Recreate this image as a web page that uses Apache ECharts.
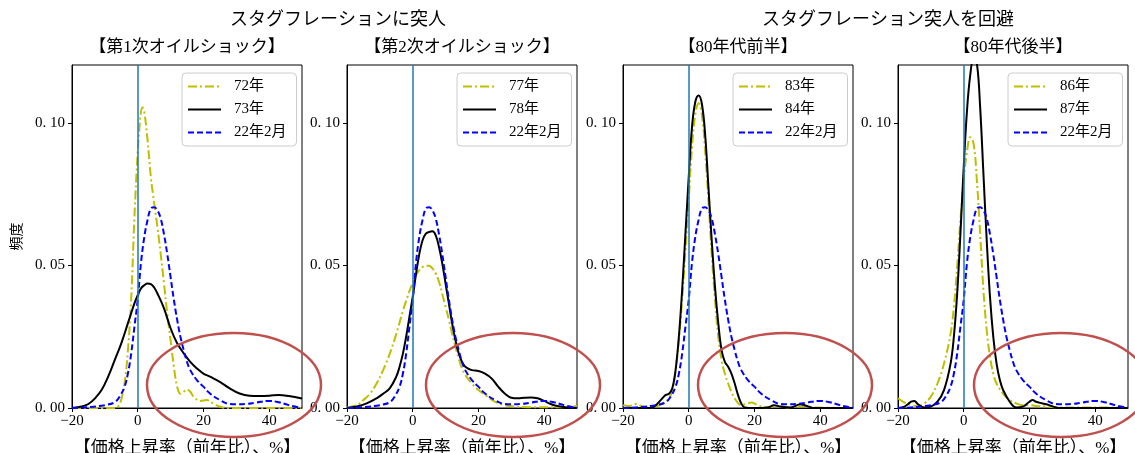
<!DOCTYPE html>
<html>
<head>
<meta charset="utf-8">
<script src="https://cdn.jsdelivr.net/npm/echarts@6/dist/echarts.min.js"></script>
<style>html,body{margin:0;padding:0;background:#fff}#c{width:1135px;height:453px}</style>
</head>
<body>
<div id="c"></div>
<script>
// ---- data ----
const groupTitles = ['スタグフレーションに突人', 'スタグフレーション突人を回避'];
const panelTitles = ['【第1次オイルショック】', '【第2次オイルショック】', '【80年代前半】', '【80年代後半】'];
const xAxisName = '【価格上昇率（前年比）、%】';
const yAxisName = '頻度';
const xTicks = [-20, 0, 20, 40];
const yTicks = [0, 0.05, 0.10];
const legendNames = [['72年', '73年'], ['77年', '78年'], ['83年', '84年'], ['86年', '87年']];
const base22 = '22年2月';

const s22feb = [[-20,0],[-15,0.0003],[-10,0.001],[-7,0.002],[-5.5,0.004],[-4,0.0075],[-3,0.012],[-2,0.019],[-1,0.0285],[0,0.038],[1,0.051],[2,0.060],[3,0.066],[4,0.070],[5,0.0705],[6,0.0694],[7,0.0665],[8,0.061],[9,0.054],[10,0.046],[11,0.038],[12,0.031],[13,0.025],[14,0.0203],[15,0.0162],[16,0.0133],[18,0.0098],[20,0.0075],[22,0.0051],[25,0.0028],[28,0.0014],[30,0.0013],[33,0.0014],[36,0.0019],[40,0.0025],[43,0.002],[46,0.001],[50,0]];

const s72 = [[-20,0],[-7,0],[-6,0.0005],[-5,0.003],[-4,0.0086],[-3,0.020],[-2,0.038],[-1,0.067],[0,0.090],[0.5,0.098],[1,0.104],[1.5,0.1055],[2,0.104],[3,0.094],[4,0.081],[5,0.072],[6,0.0635],[7,0.054],[8,0.0437],[9,0.033],[10,0.0238],[11,0.0145],[12,0.0075],[13,0.005],[14,0.0057],[15,0.0065],[16,0.0057],[17,0.004],[19,0.0025],[21,0.0028],[23,0.0016],[25,0.0005],[27,0],[50,0]];
const s73 = [[-20,0],[-17,0.0005],[-15,0.0014],[-13,0.0034],[-11,0.0063],[-9,0.011],[-7,0.0168],[-5,0.0227],[-3,0.0297],[-1,0.0367],[0,0.0396],[1,0.042],[2,0.0431],[3,0.0437],[4,0.0435],[5,0.0423],[6,0.0402],[8,0.035],[10,0.028],[12,0.0227],[14,0.0192],[16,0.0162],[18,0.0139],[20,0.0121],[22,0.011],[25,0.0092],[28,0.0069],[31,0.0051],[34,0.0043],[37,0.0042],[40,0.0043],[43,0.0046],[46,0.0042],[50,0.0033]];

const s77 = [[-20,0.0002],[-17,0.001],[-15,0.0028],[-13,0.005],[-11,0.0086],[-9,0.0133],[-7,0.019],[-5,0.026],[-3,0.034],[-1,0.041],[0,0.044],[1,0.0466],[2,0.0484],[3,0.0495],[4,0.0499],[5,0.0499],[6,0.049],[7,0.0472],[8,0.0443],[9,0.040],[10,0.0355],[11,0.031],[12,0.026],[13,0.0215],[14,0.0174],[15,0.0139],[16,0.0116],[18,0.0086],[20,0.0063],[22,0.0046],[25,0.0022],[28,0.001],[31,0.0005],[35,0.0003],[45,0.0003],[50,0.0007]];
const s78 = [[-20,0],[-17,0.0005],[-14,0.0016],[-11,0.0034],[-9,0.005],[-7,0.0069],[-5,0.011],[-4,0.0145],[-3,0.019],[-2,0.025],[-1,0.032],[0,0.039],[1,0.047],[2,0.054],[3,0.0589],[4,0.0612],[5,0.0618],[6,0.062],[7,0.0606],[8,0.0565],[9,0.0507],[10,0.0437],[11,0.0367],[12,0.0297],[13,0.0238],[14,0.0192],[15,0.0162],[16,0.0145],[18,0.0133],[20,0.013],[22,0.0121],[24,0.0104],[26,0.0075],[28,0.0051],[30,0.0036],[32,0.0034],[34,0.0036],[36,0.0037],[38,0.0034],[40,0.0025],[42,0.0014],[44,0.0007],[47,0.0002],[50,0]];

const s83 = [[-20,0.001],[-18,0.0007],[-16,0.0014],[-14,0.0005],[-12,0.0002],[-10,0.0005],[-8,0.0016],[-6,0.0034],[-5,0.0063],[-4,0.0133],[-3,0.0238],[-2,0.038],[-1,0.055],[0,0.073],[1,0.0915],[2,0.103],[3,0.107],[4,0.103],[5,0.090],[6,0.073],[7,0.054],[8,0.038],[9,0.025],[10,0.0168],[11,0.0121],[12,0.0086],[13,0.0057],[14,0.0034],[16,0.001],[18,0.0016],[19,0.0019],[21,0.001],[23,0.0002],[26,0.0005],[28,0.0007],[30,0.0002],[35,0.0007],[38,0.0002],[50,0]];
const s84 = [[-20,0],[-12,0],[-11,0.0002],[-10,0.001],[-8,0.0034],[-7,0.0046],[-6,0.005],[-5,0.0069],[-4,0.0133],[-3,0.025],[-2,0.0414],[-1,0.0612],[0,0.081],[1,0.0986],[2,0.1074],[3,0.1097],[4,0.1068],[5,0.096],[6,0.0776],[7,0.0589],[8,0.0425],[9,0.0297],[10,0.0203],[11,0.0162],[12,0.0145],[13,0.0121],[14,0.0086],[15,0.0046],[16,0.0016],[17,0.0002],[20,0],[24,0.0002],[26,0.001],[28,0.0005],[31,0.0002],[34,0.0013],[36,0.0007],[38,0],[50,0]];

const s86 = [[-20,0.0034],[-18,0.0019],[-16,0.001],[-14,0.0007],[-12,0.0016],[-10,0.004],[-8,0.0086],[-6,0.0156],[-4,0.026],[-3,0.0355],[-2,0.0495],[-1,0.0659],[0,0.080],[1,0.090],[2,0.095],[3,0.0928],[4,0.080],[5,0.0612],[6,0.0414],[7,0.0273],[8,0.018],[9,0.0121],[10,0.0086],[12,0.005],[14,0.0028],[16,0.0016],[18,0.001],[20,0.001],[22,0.0007],[25,0.0005],[30,0.0002],[50,0.0002]];
const s87 = [[-20,0],[-18,0.0005],[-16,0.0022],[-15,0.0025],[-14,0.0014],[-12,0.0002],[-10,0.0005],[-8,0.0022],[-6,0.0063],[-4,0.0156],[-3,0.025],[-2,0.040],[-1,0.0612],[0,0.0846],[1,0.1044],[2,0.117],[3,0.1225],[4,0.121],[5,0.1056],[6,0.0822],[7,0.0589],[8,0.039],[9,0.025],[10,0.0156],[11,0.0098],[12,0.0063],[14,0.0022],[16,0.0002],[18,0.0005],[20,0.0022],[21,0.0028],[22,0.0022],[24,0.0016],[26,0.001],[28,0.0002],[30,0],[50,0]];

const panelSeries = [[s72, s73], [s77, s78], [s83, s84], [s86, s87]];

// ---- layout / style ----
const gridLefts = [72, 347, 623, 898];
const gridTop = 65, gridW = 230, gridH = 343;
const FONT = '"Liberation Serif", "Noto Sans CJK JP", serif';
const YELLOW = '#bfbf00', BLACK = '#000000', BLUE = '#0000ff', VLINE = '#1f77b4', RED = '#c0504d';
const dashDot = [9, 3, 2, 3];
const dashed = [6, 3];

const grids = [], xAxes = [], yAxes = [], series = [], legends = [];
gridLefts.forEach((left, i) => {
  grids.push({left: left, top: gridTop, width: gridW, height: gridH, show: true, borderColor: '#000', borderWidth: 1,
    backgroundColor: 'transparent', containLabel: false, outerBoundsMode: 'none'});
  xAxes.push({
    type: 'value', gridIndex: i, min: -20, max: 50, interval: 20,
    name: xAxisName, nameLocation: 'middle', nameGap: 32,
    nameTextStyle: {fontFamily: FONT, fontSize: 17, color: '#000'},
    axisLine: {show: true, onZero: false, lineStyle: {color: '#000', width: 1}},
    axisTick: {show: true, length: 4, lineStyle: {color: '#000'}, customValues: xTicks},
    axisLabel: {customValues: xTicks, fontFamily: FONT, fontSize: 15, color: '#000', margin: 6,
      formatter: v => v < 0 ? '\u2212' + (-v) : String(v)},
    splitLine: {show: false}
  });
  yAxes.push({
    type: 'value', gridIndex: i, min: 0, max: 0.1204, interval: 0.05,
    name: i === 0 ? yAxisName : '', nameLocation: 'middle', nameGap: 48, nameRotate: 90,
    nameTextStyle: {fontFamily: FONT, fontSize: 14, color: '#000'},
    axisLine: {show: true, onZero: false, lineStyle: {color: '#000', width: 1}},
    axisTick: {show: true, length: 4, lineStyle: {color: '#000'}, customValues: yTicks},
    axisLabel: {customValues: yTicks, fontFamily: FONT, fontSize: 15, color: '#000', margin: 7,
      formatter: v => v.toFixed(2).replace('.', '. ')},
    splitLine: {show: false}
  });
  const [ya, yb] = panelSeries[i];
  const [na, nb] = legendNames[i];
  const common = {type: 'line', xAxisIndex: i, yAxisIndex: i, showSymbol: false, symbol: 'none', smooth: 0.4, clip: true, silent: true, animation: false};
  series.push(Object.assign({}, common, {name: na, data: ya, lineStyle: {color: YELLOW, width: 2, type: dashDot}, itemStyle: {color: YELLOW}, z: 3}));
  series.push(Object.assign({}, common, {name: nb, data: yb, lineStyle: {color: BLACK, width: 2, type: 'solid'}, itemStyle: {color: BLACK}, z: 3}));
  series.push(Object.assign({}, common, {name: base22, data: s22feb, lineStyle: {color: BLUE, width: 2, type: dashed}, itemStyle: {color: BLUE}, z: 3,
    markLine: {silent: true, symbol: ['none', 'none'], label: {show: false}, animation: false,
      lineStyle: {color: VLINE, width: 1.5, type: 'solid'}, data: [{xAxis: 0}]}}));
  legends.push({
    left: left + gridW - 120, top: 73, orient: 'vertical',
    data: [na, nb, base22],
    itemWidth: 33, itemHeight: 14, itemGap: 8,
    padding: [6, 10, 6, 5],
    itemStyle: {opacity: 0},
    backgroundColor: 'rgba(255,255,255,0.85)', borderColor: '#cccccc', borderWidth: 1, borderRadius: 4,
    textStyle: {fontFamily: FONT, fontSize: 15, color: '#000', padding: [0, 0, 0, 8]},
    selectedMode: false
  });
});

const graphics = [];
graphics.push({type: 'text', style: {text: groupTitles[0], x: 338, y: 20, textAlign: 'center', textVerticalAlign: 'middle', font: '18px ' + FONT, fill: '#000'}});
graphics.push({type: 'text', style: {text: groupTitles[1], x: 888, y: 20, textAlign: 'center', textVerticalAlign: 'middle', font: '18px ' + FONT, fill: '#000'}});
panelTitles.forEach((t, i) => {
  graphics.push({type: 'text', style: {text: t, x: gridLefts[i] + gridW / 2, y: 48, textAlign: 'center', textVerticalAlign: 'middle', font: '17px ' + FONT, fill: '#000'}});
});
const ellipseCenters = [234, 513, 785, 1061];
ellipseCenters.forEach(cx => {
  graphics.push({type: 'ellipse', z: 100, silent: true, shape: {cx: cx, cy: 385, rx: 87, ry: 52}, style: {fill: null, stroke: RED, lineWidth: 2.5}});
});

const chart = echarts.init(document.getElementById('c'), null, {renderer: 'canvas'});
chart.setOption({
  animation: false,
  backgroundColor: '#fff',
  grid: grids, xAxis: xAxes, yAxis: yAxes, series: series, legend: legends,
  graphic: graphics
});
</script>
</body>
</html>
